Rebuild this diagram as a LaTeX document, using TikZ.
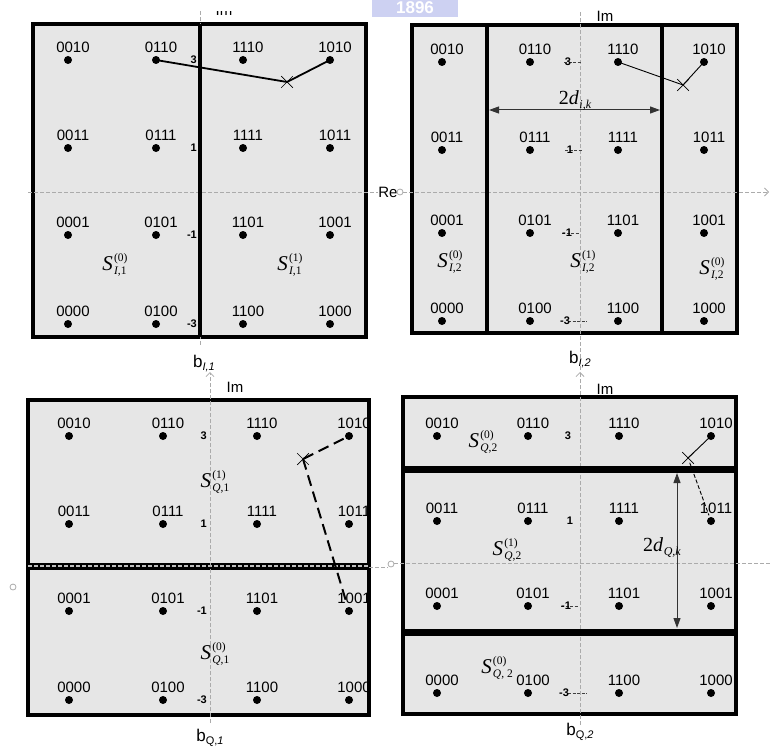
\documentclass[tikz,border=0pt]{standalone}
\usepackage{fontspec}
\setmainfont{Liberation Sans}
\newfontfamily\tms{Liberation Serif}
\usetikzlibrary{arrows.meta,shapes.misc}
\definecolor{panelfill}{HTML}{E6E6E6}
\definecolor{axisgray}{HTML}{ABABAB}
\definecolor{wmblue}{HTML}{CDD1F2}
\newcommand\Sset[2]{{\tms\fontsize{21}{21}\selectfont\itshape S}\kern1.2pt\raisebox{-4.5pt}{\tms\fontsize{11.5}{11.5}\selectfont\shortstack[l]{(#1)\\[0pt]#2}}}
\newcommand\Dlab[1]{{\tms\fontsize{20}{20}\selectfont 2\textit{d}}\kern0.5pt\raisebox{-4pt}{\tms\fontsize{12}{12}\selectfont\itshape #1}}
\newcommand\Blab[1]{b\raisebox{-3pt}{\fontsize{11}{11}\selectfont #1}}
\newcommand\qgrid[9]{%
  \foreach \lab [count=\i from 0] in {0010,0110,1110,1010,0011,0111,1111,1011,0001,0101,1101,1001,0000,0100,1100,1000}{%
    \pgfmathtruncatemacro\rr{int(\i/4)+1}%
    \pgfmathtruncatemacro\cc{mod(\i,4)+1}%
    \pgfmathsetmacro\xx{{#2,#3,#4,#5}[\cc-1]}%
    \pgfmathsetmacro\yy{{#6,#7,#8,#9}[\rr-1]}%
    \node[qdot] (#1-\rr-\cc) at (\xx,\yy) {};
    \node[qlbl] at ([xshift=5pt,yshift=12.5pt]#1-\rr-\cc.center) {\lab};
  }}
\begin{document}
\begin{tikzpicture}[x=1pt,y=-1pt,
  qdot/.style={circle,fill=black,inner sep=0pt,minimum size=8pt},
  qlbl/.style={font=\fontsize{15}{15}\selectfont,inner sep=0pt},
  panel/.style={draw=black,line width=4.5pt,fill=panelfill},
  divider/.style={draw=black,line width=4.5pt},
  axis/.style={draw=axisgray,line width=0.8pt,dash pattern=on 4pt off 2pt},
  axtip/.style={-{Straight Barb[length=4pt,width=8pt]}},
  ticklbl/.style={font=\bfseries\fontsize{11}{11}\selectfont,inner sep=0pt},
  tickdash/.style={draw=black!75,line width=0.8pt,dash pattern=on 3pt off 1.5pt},
  xmark/.style={cross out,draw=black,line width=0.7pt,minimum size=11pt,inner sep=0pt},
  slbl/.style={inner sep=0pt},
  axlbl/.style={font=\fontsize{15}{15}\selectfont,inner sep=0pt},
  blbl/.style={font=\fontsize{17}{17}\selectfont,inner sep=0pt},
  dimarrow/.style={line width=1pt,draw=black!80,{Triangle[length=10pt,width=7pt]}-{Triangle[length=10pt,width=7pt]}},
]
\useasboundingbox (0,0) rectangle (770,749);
% watermark banner
\fill[wmblue] (372,0) rectangle (458,17);
\node[font=\bfseries\fontsize{17}{17}\selectfont,text=white,inner sep=0pt] (wm) at (415,8) {1896};

% ---------------- top-left panel ----------------
\draw[panel] (33,24) rectangle (366,337);
\draw[axis] (28,192) -- (378,192);
\draw[axis] (200,11) -- (200,345);
\draw[divider] (200,24) -- (200,337);
\begin{scope}
  \clip (205,12) rectangle (250,17);
  \node[axlbl] (imtl) at (224,10) {Im};
\end{scope}
\node[axlbl] (re) at (388,192) {Re};
\qgrid{tl}{68}{156}{243}{330}{60}{148}{235}{324}
\node[ticklbl,anchor=east] (t1) at (197,60) {3};
\node[ticklbl,anchor=east] (t2) at (197,148) {1};
\node[ticklbl,anchor=east] (t3) at (197,235) {-1};
\node[ticklbl,anchor=east] (t4) at (197,324) {-3};
\node[slbl] (s1) at (115,265) {\Sset{0}{\itshape I\upshape,1}};
\node[slbl] (s2) at (290,265) {\Sset{1}{\itshape I\upshape,1}};
\node[xmark] (xtl) at (287,82) {};
\draw[line width=1.8pt] (tl-1-2.center) -- (xtl.center) -- (tl-1-4.center);
\node[blbl] (b1) at (204,364) {\Blab{\itshape I,1}};

% ---------------- top-right panel ----------------
\draw[panel] (412,25) rectangle (737,333);
\draw[axis,axtip] (403,192) -- (769,192);
\draw[axisgray,line width=0.8pt] (400,192) circle (3pt);
\draw[axis] (580,12) -- (580,372);
\draw[divider] (487,25) -- (487,333);
\draw[divider] (662,25) -- (662,333);
\node[axlbl] (imtr) at (605,16) {Im};
\qgrid{tr}{442}{530}{618}{704}{62}{150}{233}{321}
\draw[tickdash] (564,62) -- (582,62);
\node[ticklbl] (u1) at (568,62) {3};
\draw[tickdash] (565,150) -- (582,150);
\node[ticklbl] (u2) at (570,150) {1};
\draw[tickdash] (562,233) -- (580,233);
\node[ticklbl] (u3) at (567,233) {-1};
\draw[tickdash] (568,321) -- (587,321);
\node[ticklbl] (u4) at (565,321) {-3};
\node[slbl] (s3) at (450,262) {\Sset{0}{\itshape I\upshape,2}};
\node[slbl] (s4) at (583,262) {\Sset{1}{\itshape I\upshape,2}};
\node[slbl] (s5) at (712,269) {\Sset{0}{\itshape I\upshape,2}};
\coordinate (dil) at (489,110);
\coordinate (dir) at (660,110);
\draw[dimarrow] (dil) -- (dir);
\node[inner sep=0pt] (dik) at (575,100) {\Dlab{i,k}};
\node[xmark] (xtr) at (683,85) {};
\draw[line width=0.9pt] (tr-1-3.center) -- (xtr.center) -- (tr-1-4.center);
\node[blbl] (b2) at (580,360) {\Blab{\itshape I,2}};

% ---------------- bottom-left panel ----------------
\draw[panel] (28,400) rectangle (369,715);
\draw[divider,line width=7pt] (28,566) -- (369,566);
\draw[axis,draw=black!25,line width=1.6pt] (28,566) -- (369,566);
\draw[axis] (369,567) -- (388,567);
\draw[axisgray,line width=0.8pt] (391,564) circle (3pt);
\draw[axisgray,line width=0.8pt] (13,587) circle (3pt);
\draw[axis,axtip] (210,723) -- (210,372);
\node[axlbl] (imbl) at (235,387) {Im};
\qgrid{bl}{69}{163}{257}{349}{436}{524}{611}{700}
\node[ticklbl,anchor=east] (v1) at (207,436) {3};
\node[ticklbl,anchor=east] (v2) at (207,524) {1};
\node[ticklbl,anchor=east] (v3) at (207,611) {-1};
\node[ticklbl,anchor=east] (v4) at (207,700) {-3};
\node[slbl] (s6) at (215,482) {\Sset{1}{\itshape Q\upshape,1}};
\node[slbl] (s7) at (215,654) {\Sset{0}{\itshape Q\upshape,1}};
\node[xmark] (xbl) at (303,459) {};
\draw[line width=2pt,dash pattern=on 11pt off 6pt,shorten <=6pt] (bl-1-4.center) -- (xbl.center);
\draw[line width=2pt,dash pattern=on 11pt off 6pt,shorten >=6pt] (xbl.center) -- (bl-3-4.center);
\node[blbl] (b3) at (210,738) {\Blab{Q,\itshape 1}};

% ---------------- bottom-right panel ----------------
\draw[panel] (403,397) rectangle (736,714);
\draw[axis] (394,563) -- (770,563);
\draw[axis,axtip] (580,725) -- (580,372);
\draw[divider,line width=7pt] (403,469) -- (736,469);
\draw[divider,line width=7pt] (403,632) -- (736,632);
\node[axlbl] (imbr) at (605,389) {Im};
\qgrid{br}{437}{528}{619}{711}{436}{521}{606}{693}
\node[ticklbl] (w1) at (568,436) {3};
\node[ticklbl] (w2) at (570,521) {1};
\draw[tickdash] (561,606) -- (579,606);
\node[ticklbl] (w3) at (566,606) {-1};
\draw[tickdash] (568,693) -- (587,693);
\node[ticklbl] (w4) at (564,693) {-3};
\node[slbl] (s8) at (483,442) {\Sset{0}{\itshape Q\upshape,2}};
\node[slbl] (s9) at (507,550) {\Sset{1}{\itshape Q\upshape,2}};
\node[slbl] (s10) at (497,668) {\Sset{0}{\itshape Q\upshape, 2}};
\coordinate (dqt) at (677,473);
\coordinate (dqb) at (677,628);
\draw[dimarrow] (dqt) -- (dqb);
\node[inner sep=0pt] (dqk) at (662,548) {\Dlab{Q,k}};
\node[xmark] (xbr) at (688,458) {};
\draw[line width=0.9pt] (br-1-4.center) -- (xbr.center);
\draw[line width=0.9pt,dash pattern=on 4pt off 2pt,shorten <=5pt,shorten >=6pt] (xbr.center) -- (br-2-4.center);
\node[blbl] (b4) at (580,732) {\Blab{Q,\itshape 2}};
\end{tikzpicture}
\end{document}
